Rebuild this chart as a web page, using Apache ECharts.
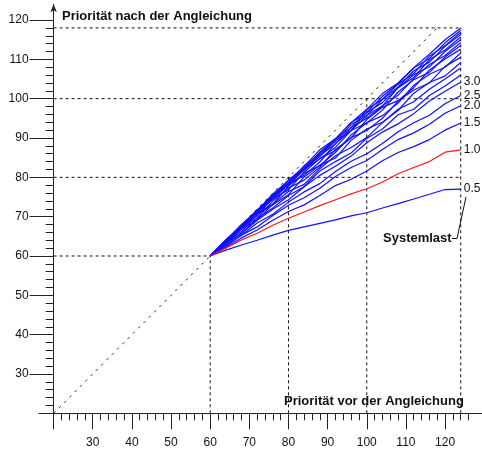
<!DOCTYPE html>
<html><head><meta charset="utf-8">
<script src="https://cdn.jsdelivr.net/npm/echarts@6/dist/echarts.min.js"></script>
<style>html,body{margin:0;padding:0;background:#fff}#c{width:482px;height:453px}</style>
</head><body><div id="c"></div>
<script>
// x positions (Priorität vor der Angleichung)
const xs = [60,64,68,72,76,80,84,88,92,96,100,104,108,112,116,120,124];

// y values (Priorität nach der Angleichung) per Systemlast
const load_0_5  = [60,61.5,62.8,64.0,65.3,66.5,67.4,68.3,69.2,70.2,71.0,72.2,73.3,74.5,75.7,76.9,77.0];
const load_1_0  = [60,62.0,64.1,65.8,67.8,69.6,71.2,72.8,74.3,75.8,77.1,78.8,80.9,82.5,84.0,86.4,87.0];
const load_1_5  = [60,62.2,64.6,66.6,69.1,71.3,73.0,75.4,77.9,79.5,81.6,84.2,86.3,87.8,89.6,92.0,93.8];
const load_2_0  = [60,62.5,65.3,67.4,70.3,72.9,74.8,77.2,80.2,82.5,84.3,87.1,89.6,91.3,93.5,96.3,98.2];
const load_2_5  = [60,62.8,65.3,68.4,70.6,73.7,76.3,78.4,81.5,84.1,86.0,88.6,91.6,93.9,95.8,98.7,100.8];
const load_3_0  = [60,63.1,65.7,69.1,71.9,74.3,77.6,80.5,82.8,85.4,88.8,91.5,93.6,96.2,99.4,101.9,104.2];
const load_3_5  = [60,63.4,65.8,69.6,72.2,75.4,77.6,81.6,84.0,86.2,89.9,92.3,95.9,97.3,100.8,103.2,106.0];
const load_4_0  = [60,63.1,66.9,69.1,73.2,76.4,78.2,82.2,85.5,87.6,90.1,93.9,97.3,99.2,102.4,105.0,107.8];
const load_4_5  = [60,63.6,66.2,70.5,73.0,75.6,80.1,83.1,84.9,89.4,92.3,94.0,97.0,101.4,104.1,105.8,109.2];
const load_5_0  = [60,63.3,67.3,69.6,74.0,77.3,79.3,82.6,87.1,90.1,91.9,95.0,99.4,102.2,104.0,108.2,110.5];
const load_5_5  = [60,63.7,66.8,70.9,73.2,77.7,81.0,83.0,86.3,90.8,93.9,95.7,98.9,103.4,106.2,108.0,111.6];
const load_6_0  = [60,63.4,67.2,71.0,74.6,76.8,81.3,84.8,86.8,90.0,94.7,97.8,99.5,102.8,107.3,110.1,112.6];
const load_6_5  = [60,63.9,67.6,70.2,74.8,78.3,80.5,83.9,88.6,91.9,93.8,97.1,101.7,104.8,106.7,110.6,113.5];
const load_7_0  = [60,63.5,67.4,71.3,74.4,78.1,82.0,84.7,87.6,91.9,95.7,98.2,100.9,105.1,108.7,111.0,114.3];
const load_7_5  = [60,64.0,67.3,71.1,75.2,78.0,81.9,85.5,88.5,92.7,95.0,98.1,102.8,106.1,108.1,112.0,115.0];
const load_8_0  = [60,63.7,67.7,71.0,75.3,78.6,82.5,85.3,89.3,92.0,96.5,99.0,102.8,105.4,109.9,112.4,115.7];
const load_8_5  = [60,64.1,67.5,71.4,74.9,79.1,81.8,86.0,89.2,93.4,95.8,99.8,103.0,107.1,109.3,113.3,116.3];
const load_9_0  = [60,63.8,67.9,71.3,75.6,78.4,83.0,85.9,89.8,92.6,97.2,99.9,103.7,106.4,110.8,113.5,116.9];
const load_9_5  = [60,64.1,67.7,71.8,75.2,79.3,82.2,86.4,89.8,93.9,96.5,100.6,103.8,107.8,110.2,114.2,117.4];
const load_10_0 = [60,64.0,68.0,71.5,75.8,79.2,82.8,87.0,89.8,93.9,97.3,101.3,104.0,107.9,111.3,115.0,118.0];

const loadNames  = ['0.5','1.0','1.5','2.0','2.5','3.0','3.5','4.0','4.5','5.0','5.5','6.0','6.5','7.0','7.5','8.0','8.5','9.0','9.5','10.0'];
const loadValues = [load_0_5,load_1_0,load_1_5,load_2_0,load_2_5,load_3_0,load_3_5,load_4_0,load_4_5,load_5_0,
                    load_5_5,load_6_0,load_6_5,load_7_0,load_7_5,load_8_0,load_8_5,load_9_0,load_9_5,load_10_0];
const labeledLoads = ['0.5','1.0','1.5','2.0','2.5','3.0'];
const highlightLoad = '1.0';

// ticks
const xMajorTicks = [20,30,40,50,60,70,80,90,100,110,120];
const xTickLabels = [30,40,50,60,70,80,90,100,110,120];
const xMinorTicks = [22,24,26,28,32,34,36,38,42,44,46,48,52,54,56,58,62,64,66,68,72,74,76,78,82,84,86,88,92,94,96,98,102,104,106,108,112,114,116,118,122,124,126];
const yMajorTicks = [30,40,50,60,70,80,90,100,110,120];
const yTickLabels = [30,40,50,60,70,80,90,100,110,120];
const yMinorTicks = [22,24,26,28,32,34,36,38,42,44,46,48,52,54,56,58,62,64,66,68,72,74,76,78,82,84,86,88,92,94,96,98,102,104,106,108,112,114,116,118];
const yOriginTick = [20];

// guide lines
const diagonalLine = [[20,20],[118,118]];
const guideHorizontal = [[60,60],[80,124],[100,124],[118,124]]; // [y level, x end]
const guideVertical   = [[60,60],[80,80],[100,100],[124,118]];   // [x pos, y end]

const FONT = "'Liberation Sans', Arial, Helvetica, sans-serif";
const chart = echarts.init(document.getElementById('c'), null, {renderer:'canvas'});

const series = [];
const dashStyle = {color:'#111', width:1, type:[3,3]};
series.push({type:'line', data:diagonalLine, symbol:'none', silent:true, z:1,
  lineStyle:{color:'#222', width:1, type:[2.5,5]}});
guideHorizontal.forEach(g => series.push({type:'line', data:[[20,g[0]],[g[1],g[0]]], symbol:'none', silent:true, z:1, lineStyle:dashStyle}));
guideVertical.forEach(g => series.push({type:'line', data:[[g[0],20],[g[0],g[1]]], symbol:'none', silent:true, z:1, lineStyle:dashStyle}));

loadNames.forEach((name, i) => {
  const isRed = name === highlightLoad;
  const showLab = labeledLoads.indexOf(name) >= 0;
  series.push({
    type:'line', name:name, symbol:'none', silent:true, z: isRed ? 4 : 3,
    data: xs.map((x, j) => [x, loadValues[i][j]]),
    lineStyle:{color: isRed ? '#ff1a1a' : '#1010ff', width:1.2},
    endLabel:{show: showLab, formatter: name, distance:3, fontSize:12, fontFamily:FONT, color:'#111'}
  });
});

const baseX = {type:'value', min:20, max:130, gridIndex:0, position:'bottom', splitLine:{show:false}};
const baseY = {type:'value', min:20, max:124, gridIndex:0, position:'left', splitLine:{show:false}};

chart.setOption({
  animation:false,
  backgroundColor:'#fff',
  grid:{left:53.6, top:4.3, width:430.6, height:409, containLabel:false, outerBoundsMode:'none'},
  xAxis:[
    Object.assign({}, baseX, {
      axisLine:{show:true, onZero:false, lineStyle:{color:'#222', width:1}},
      axisTick:{show:true, customValues:xMajorTicks, length:16, inside:false, lineStyle:{color:'#222', width:1}},
      axisLabel:{show:true, customValues:xTickLabels, margin:23, fontSize:12, fontFamily:FONT, color:'#111'}
    }),
    Object.assign({}, baseX, {
      axisLine:{show:false, onZero:false},
      axisTick:{show:true, customValues:xMinorTicks, length:7, inside:false, lineStyle:{color:'#222', width:1}},
      axisLabel:{show:false}
    })
  ],
  yAxis:[
    Object.assign({}, baseY, {
      axisLine:{show:true, onZero:false, symbol:['none','arrow'], symbolSize:[5,8], lineStyle:{color:'#222', width:1}},
      axisTick:{show:true, customValues:yMajorTicks, length:24, inside:false, lineStyle:{color:'#222', width:1}},
      axisLabel:{show:true, customValues:yTickLabels, margin:25, fontSize:12, fontFamily:FONT, color:'#111'}
    }),
    Object.assign({}, baseY, {
      axisLine:{show:false, onZero:false},
      axisTick:{show:true, customValues:yMinorTicks, length:8, inside:false, lineStyle:{color:'#222', width:1}},
      axisLabel:{show:false}
    }),
    Object.assign({}, baseY, {
      axisLine:{show:false, onZero:false},
      axisTick:{show:true, customValues:yOriginTick, length:15, inside:false, lineStyle:{color:'#222', width:1}},
      axisLabel:{show:false}
    })
  ],
  series: series,
  graphic:[
    {type:'text', left:62, top:10, style:{text:'Priorität nach der Angleichung', font:"bold 13px "+FONT, fill:'#111'}},
    {type:'text', left:284, top:395, style:{text:'Priorität vor der Angleichung', font:"bold 13px "+FONT, fill:'#111'}},
    {type:'text', left:383, top:232, style:{text:'Systemlast', font:"bold 13px "+FONT, fill:'#111'}},
    {type:'polyline', shape:{points:[[452,238.5],[457,238.5],[466,197]]}, style:{stroke:'#111', lineWidth:1, fill:null}}
  ]
});
</script></body></html>
